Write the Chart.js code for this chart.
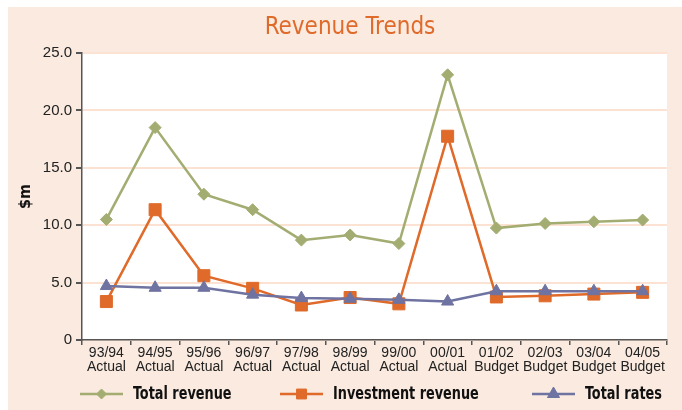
<!DOCTYPE html>
<html>
<head>
<meta charset="utf-8">
<script src="https://cdn.jsdelivr.net/npm/chart.js@4.4.1/dist/chart.umd.min.js"></script>
<style>
  html, body { margin: 0; padding: 0; background: #fff; }
  #panel { position: absolute; left: 8px; top: 7px; width: 674px; height: 403px; background: #FAEADF; }
  canvas { display: block; }
</style>
</head>
<body>
<div id="panel"><canvas id="revenueChart" width="674" height="403"></canvas></div>
<script>
  const periods = [
    ['93/94', 'Actual'], ['94/95', 'Actual'], ['95/96', 'Actual'], ['96/97', 'Actual'],
    ['97/98', 'Actual'], ['98/99', 'Actual'], ['99/00', 'Actual'], ['00/01', 'Actual'],
    ['01/02', 'Budget'], ['02/03', 'Budget'], ['03/04', 'Budget'], ['04/05', 'Budget'],
  ];
  const totalRevenue = [10.5, 18.5, 12.7, 11.35, 8.7, 9.15, 8.4, 23.1, 9.75, 10.15, 10.3, 10.45];
  const investmentRevenue = [3.35, 11.35, 5.6, 4.5, 3.05, 3.7, 3.15, 17.75, 3.75, 3.85, 4.0, 4.15];
  const totalRates = [4.7, 4.55, 4.55, 3.95, 3.65, 3.6, 3.5, 3.35, 4.25, 4.25, 4.25, 4.25];
  const yTicks = [0, 5, 10, 15, 20, 25];

  const green = '#A3AD72';
  const orange = '#DF6A2A';
  const purple = '#6F73A1';
  const narrow = '"Liberation Sans Narrow", "DejaVu Sans Condensed", "Liberation Sans", sans-serif';

  // white plot area on the peach panel
  const plotBackground = {
    id: 'plotBackground',
    beforeDraw(chart) {
      const { ctx, chartArea } = chart;
      ctx.save();
      ctx.fillStyle = '#fff';
      ctx.fillRect(chartArea.left, chartArea.top, chartArea.right - chartArea.left, chartArea.bottom - chartArea.top);
      ctx.restore();
    },
  };

  // legend drawn as line + marker + bold label, like the original
  const legendStarts = [72, 272, 524];
  const legendRadius = [5, 7, 7];
  const lineLegend = {
    id: 'lineLegend',
    afterDraw(chart) {
      const { ctx } = chart;
      const y = 387;
      ctx.save();
      chart.data.datasets.forEach((ds, i) => {
        const x = legendStarts[i];
        ctx.strokeStyle = ds.borderColor;
        ctx.lineWidth = 2.5;
        ctx.beginPath();
        ctx.moveTo(x, y);
        ctx.lineTo(x + 43, y);
        ctx.stroke();
        ctx.fillStyle = ds.backgroundColor;
        ctx.strokeStyle = ds.backgroundColor;
        ctx.lineWidth = 1;
        Chart.helpers.drawPoint(ctx, { pointStyle: ds.pointStyle, rotation: 0, radius: legendRadius[i], borderWidth: 1 }, x + 21.5, y);
        // condensed look for the bold label
        ctx.save();
        ctx.translate(x + 53, y + 1);
        ctx.scale(0.84, 1);
        ctx.fillStyle = '#111';
        ctx.font = 'bold 17px ' + narrow;
        ctx.textBaseline = 'middle';
        ctx.textAlign = 'left';
        ctx.fillText(ds.label, 0, 0);
        ctx.restore();
      });
      ctx.restore();
    },
  };

  function series(label, data, color, pointStyle, radius, order) {
    return {
      label,
      data,
      order,
      borderColor: color,
      backgroundColor: color,
      borderWidth: 2.5,
      pointStyle,
      pointRadius: radius,
      pointHoverRadius: radius,
      pointBackgroundColor: color,
      pointBorderColor: color,
      pointBorderWidth: 1,
      tension: 0,
    };
  }

  const chart = new Chart(document.getElementById('revenueChart').getContext('2d'), {
    type: 'line',
    data: {
      labels: periods,
      datasets: [
        series('Total revenue', totalRevenue, green, 'rectRot', 6, 2),
        series('Investment revenue', investmentRevenue, orange, 'rect', 8.5, 1),
        series('Total rates', totalRates, purple, 'triangle', 7, 0),
      ],
    },
    options: {
      responsive: false,
      animation: false,
      events: [],
      layout: { padding: { left: 25, right: 15, top: 0, bottom: 35 } },
      plugins: {
        legend: { display: false },
        tooltip: { enabled: false },
        title: {
          display: true,
          text: 'Revenue Trends',
          color: orange,
          font: { family: narrow, size: 24, weight: 'normal', lineHeight: 1.25 },
          padding: { top: 6, bottom: 10 },
        },
      },
      scales: {
        x: {
          offset: true,
          grid: {
            offset: true,
            drawOnChartArea: false,
            color: '#555',
            tickColor: '#555',
            tickLength: 5,
            lineWidth: 1.5,
          },
          border: { color: '#555', width: 1.5 },
          ticks: {
            color: '#222',
            padding: 1,
            maxRotation: 0,
            autoSkip: false,
            font: { family: '"Liberation Sans", Arial, sans-serif', size: 14, lineHeight: 1.0 },
          },
        },
        y: {
          min: yTicks[0],
          max: yTicks[yTicks.length - 1],
          afterBuildTicks(scale) {
            scale.ticks = yTicks.map(v => ({ value: v }));
          },
          afterFit(scale) {
            scale.width = 49;
          },
          grid: {
            color: '#FBE2D2',
            lineWidth: 2,
            tickColor: '#555',
            tickLength: 6,
          },
          border: { color: '#555', width: 1.5 },
          title: {
            display: true,
            text: '$m',
            color: '#111',
            font: { family: narrow, size: 16, weight: 'bold' },
            padding: { top: -17, bottom: 0 },
          },
          ticks: {
            color: '#222',
            padding: 4,
            font: { family: '"Liberation Sans", Arial, sans-serif', size: 15 },
            callback: v => (v === 0 ? '0' : v.toFixed(1)),
          },
        },
      },
    },
    plugins: [plotBackground, lineLegend],
  });
</script>
</body>
</html>
